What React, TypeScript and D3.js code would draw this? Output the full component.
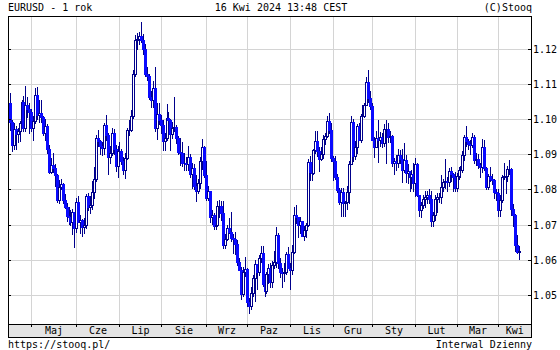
import React from "react";
import * as d3 from "d3";

// EURUSD daily OHLC, 2023-04-14 .. 2024-04-16 (weekdays, holidays 25 Dec / 1 Jan absent)
const FIRST_OPEN = 1.1046;

const CLOSE: number[] = [
  // Apr 2023
  1.0993, 1.0927, 1.0971, 1.0958, 1.0965, 1.099, 1.1048, 1.0974, 1.1041, 1.1028, 1.102,
  // May
  1.0974, 1.0996, 1.1069, 1.1013, 1.1019, 1.1005, 1.0962, 1.0982, 1.0915, 1.0849, 1.087, 1.0862,
  1.084, 1.077, 1.0806, 1.0815, 1.0771, 1.075, 1.0725, 1.0722, 1.0706, 1.0735, 1.0689,
  // Jun
  1.0763, 1.0708, 1.0712, 1.0694, 1.0698, 1.078, 1.0749, 1.0755, 1.0792, 1.0831, 1.0946, 1.0939,
  1.0923, 1.0917, 1.0983, 1.0955, 1.0893, 1.0905, 1.096, 1.0914, 1.0866, 1.091,
  // Jul
  1.091, 1.088, 1.0854, 1.089, 1.0968, 1.097, 1.101, 1.1128, 1.1227, 1.1228, 1.1236, 1.1227,
  1.12, 1.113, 1.1124, 1.1063, 1.1054, 1.1089, 1.0975, 1.1015, 1.0997,
  // Aug
  1.0983, 1.0937, 1.0946, 1.1004, 1.0999, 1.0957, 1.0974, 1.0979, 1.0946, 1.0907, 1.0905, 1.0874,
  1.0875, 1.0872, 1.0893, 1.0845, 1.0862, 1.0809, 1.0795, 1.0818, 1.088, 1.0922, 1.0842,
  // Sep
  1.0775, 1.0796, 1.0722, 1.0726, 1.0697, 1.0698, 1.0752, 1.0752, 1.0732, 1.0643, 1.0658, 1.069,
  1.0679, 1.0661, 1.0658, 1.0645, 1.0594, 1.0571, 1.0501, 1.0565, 1.0573,
  // Oct
  1.0478, 1.0468, 1.0505, 1.0548, 1.0588, 1.0564, 1.0604, 1.0619, 1.053, 1.0511, 1.0558, 1.0576,
  1.0535, 1.0584, 1.0594, 1.067, 1.0591, 1.0565, 1.0563, 1.0565, 1.0615, 1.0576,
  // Nov
  1.0571, 1.0622, 1.0728, 1.0721, 1.0698, 1.0709, 1.0668, 1.0684, 1.0699, 1.0879, 1.0849, 1.0848,
  1.0912, 1.0939, 1.091, 1.0887, 1.0902, 1.0943, 1.0952, 1.0995, 1.097, 1.0889,
  // Dec
  1.0882, 1.0836, 1.0797, 1.0764, 1.0792, 1.076, 1.0763, 1.0793, 1.0872, 1.0992, 1.0896, 1.0922,
  1.098, 1.0942, 1.101, 1.101, 1.1041, 1.1105, 1.106, 1.1039,
  // Jan 2024
  1.0942, 1.0921, 1.0946, 1.0942, 1.095, 1.0931, 1.0972, 1.0973, 1.095, 1.0953, 1.0876, 1.0882,
  1.0874, 1.0897, 1.0886, 1.0855, 1.0885, 1.0846, 1.0853, 1.0834, 1.0844, 1.0818,
  // Feb
  1.0873, 1.0785, 1.0742, 1.0755, 1.0772, 1.0778, 1.0784, 1.0772, 1.0709, 1.0728, 1.0774, 1.0777,
  1.0777, 1.0808, 1.082, 1.0823, 1.082, 1.0851, 1.0845, 1.0835, 1.0804,
  // Mar
  1.0838, 1.0855, 1.0855, 1.0899, 1.0948, 1.0937, 1.0928, 1.0926, 1.0948, 1.0883, 1.0888, 1.0869,
  1.0865, 1.0922, 1.086, 1.0808, 1.0839, 1.0831, 1.0828, 1.0792, 1.079,
  // Apr 2024
  1.0741, 1.0771, 1.0834, 1.0839, 1.0839, 1.0859, 1.0857, 1.0743, 1.0728, 1.0643, 1.0623, 1.0625,
];

const HIGH: number[] = [
  1.1075, 1.0998, 1.099, 1.098, 1.0975, 1.0996, 1.1055, 1.1065, 1.1095, 1.1063, 1.1045,
  1.103, 1.1008, 1.109, 1.1092, 1.1054, 1.1055, 1.1008, 1.1, 1.0985, 1.0926, 1.089, 1.0903,
  1.0873, 1.0845, 1.0828, 1.083, 1.0817, 1.0787, 1.076, 1.075, 1.0742, 1.0745, 1.0737,
  1.0776, 1.078, 1.0728, 1.0717, 1.0718, 1.0787, 1.079, 1.078, 1.0824, 1.0865, 1.0956, 1.097,
  1.094, 1.0934, 1.099, 1.1012, 1.096, 1.0925, 1.0976, 1.0973, 1.0927, 1.0925,
  1.0935, 1.0914, 1.0893, 1.0903, 1.0975, 1.0998, 1.1026, 1.1139, 1.1241, 1.1245, 1.1249, 1.1276,
  1.1243, 1.1215, 1.115, 1.113, 1.108, 1.111, 1.115, 1.1045, 1.1046,
  1.1013, 1.0997, 1.0962, 1.1042, 1.102, 1.1, 1.0993, 1.1064, 1.0984, 1.0952, 1.0946, 1.0935,
  1.0903, 1.0893, 1.0925, 1.0902, 1.0875, 1.0871, 1.0841, 1.0829, 1.0893, 1.0945, 1.0925,
  1.0882, 1.081, 1.0795, 1.074, 1.0733, 1.0721, 1.0767, 1.0769, 1.0768, 1.0768, 1.0673, 1.0698,
  1.0718, 1.0737, 1.0674, 1.068, 1.0656, 1.0605, 1.058, 1.0578, 1.0608,
  1.0575, 1.049, 1.0523, 1.0555, 1.0599, 1.0578, 1.0614, 1.0638, 1.064, 1.0535, 1.0565, 1.0587,
  1.059, 1.0595, 1.0624, 1.0694, 1.0675, 1.0604, 1.0577, 1.059, 1.0623, 1.0637,
  1.059, 1.0642, 1.075, 1.0755, 1.0722, 1.072, 1.0711, 1.0695, 1.0705, 1.0887, 1.0895, 1.0874,
  1.0914, 1.0965, 1.0965, 1.092, 1.092, 1.0955, 1.096, 1.101, 1.1017, 1.099,
  1.0896, 1.0895, 1.0843, 1.0805, 1.0803, 1.0805, 1.0768, 1.081, 1.088, 1.1009, 1.1, 1.0939,
  1.0985, 1.0988, 1.1015, 1.104, 1.1045, 1.112, 1.1139, 1.108,
  1.1045, 1.095, 1.0965, 1.0998, 1.0964, 1.096, 1.0985, 1.0998, 1.099, 1.0966, 1.0955, 1.089,
  1.0898, 1.0915, 1.0912, 1.0915, 1.0932, 1.0899, 1.0873, 1.0845, 1.0855, 1.0875,
  1.0889, 1.0874, 1.0785, 1.0765, 1.0785, 1.0795, 1.0795, 1.08, 1.0795, 1.0735, 1.0785, 1.079,
  1.079, 1.084, 1.083, 1.0888, 1.0835, 1.086, 1.0865, 1.0847, 1.085,
  1.0848, 1.0865, 1.0867, 1.091, 1.0955, 1.0981, 1.0945, 1.094, 1.096, 1.0955, 1.0905, 1.09,
  1.0875, 1.0943, 1.0942, 1.0865, 1.0845, 1.0865, 1.0845, 1.083, 1.08,
  1.08, 1.0785, 1.084, 1.0876, 1.085, 1.0866, 1.0885, 1.086, 1.0757, 1.073, 1.067, 1.064,
];

const LOW: number[] = [
  1.097, 1.091, 1.0915, 1.0915, 1.0935, 1.0938, 1.0985, 1.0965, 1.0965, 1.1005, 1.096,
  1.0965, 1.0942, 1.099, 1.1, 1.0993, 1.0992, 1.0955, 1.094, 1.0905, 1.0848, 1.0848, 1.085,
  1.081, 1.0765, 1.076, 1.08, 1.076, 1.0748, 1.071, 1.0702, 1.07, 1.0674, 1.0635,
  1.0678, 1.0706, 1.0676, 1.0667, 1.0677, 1.0691, 1.0742, 1.0734, 1.0745, 1.0775, 1.0825, 1.0925,
  1.0902, 1.0898, 1.09, 1.094, 1.0845, 1.0875, 1.0897, 1.09, 1.0852, 1.0835,
  1.0882, 1.0872, 1.0844, 1.0833, 1.0886, 1.0955, 1.0965, 1.1004, 1.1123, 1.12, 1.1215, 1.122,
  1.1185, 1.1124, 1.1112, 1.1058, 1.1035, 1.1035, 1.0965, 1.0945, 1.0985,
  1.096, 1.0912, 1.0913, 1.0941, 1.0963, 1.0912, 1.0946, 1.0967, 1.0931, 1.09, 1.087, 1.0868,
  1.0855, 1.0856, 1.0855, 1.0834, 1.0803, 1.0801, 1.0767, 1.079, 1.0803, 1.0857, 1.0836,
  1.077, 1.077, 1.0706, 1.0702, 1.0686, 1.0686, 1.0705, 1.072, 1.0714, 1.0632, 1.0632, 1.0655,
  1.0675, 1.0654, 1.0618, 1.0615, 1.0585, 1.057, 1.0488, 1.0496, 1.0554,
  1.0468, 1.0448, 1.046, 1.0495, 1.0482, 1.0515, 1.0555, 1.0592, 1.0525, 1.0495, 1.0506, 1.0532,
  1.0523, 1.0523, 1.0576, 1.058, 1.0577, 1.055, 1.0522, 1.0539, 1.056, 1.0575,
  1.0516, 1.056, 1.062, 1.0705, 1.0665, 1.0676, 1.0666, 1.0656, 1.0665, 1.0696, 1.0828, 1.0828,
  1.0844, 1.0905, 1.0895, 1.0852, 1.0885, 1.089, 1.093, 1.0948, 1.0962, 1.088,
  1.0828, 1.083, 1.0794, 1.0757, 1.0723, 1.0724, 1.0723, 1.0744, 1.076, 1.0873, 1.088, 1.0888,
  1.0905, 1.094, 1.0935, 1.0995, 1.1005, 1.104, 1.105, 1.103,
  1.094, 1.0892, 1.092, 1.0877, 1.0925, 1.0922, 1.0925, 1.0875, 1.0935, 1.0935, 1.0866, 1.0845,
  1.0855, 1.0865, 1.0875, 1.0822, 1.085, 1.082, 1.0818, 1.0795, 1.0805, 1.0795,
  1.078, 1.078, 1.0723, 1.0722, 1.0746, 1.075, 1.076, 1.076, 1.0697, 1.0695, 1.0712, 1.0735,
  1.0765, 1.076, 1.0795, 1.0805, 1.0795, 1.081, 1.0823, 1.0795, 1.0795,
  1.0795, 1.083, 1.0835, 1.085, 1.0885, 1.0925, 1.0915, 1.09, 1.092, 1.0876, 1.087, 1.086,
  1.0835, 1.085, 1.0855, 1.0802, 1.08, 1.0825, 1.0815, 1.0775, 1.077,
  1.0725, 1.0725, 1.0765, 1.083, 1.079, 1.0825, 1.0845, 1.0728, 1.0697, 1.0624, 1.062, 1.0601,
];

const Y_TICKS = [1.05, 1.06, 1.07, 1.08, 1.09, 1.1, 1.11, 1.12];
const MONTH_LABELS = ["Sty", "Lut", "Mar", "Kwi", "Maj", "Cze", "Lip", "Sie", "Wrz", "Paz", "Lis", "Gru"];
const MISSING_DAYS = ["2023-12-25", "2024-01-01"];
const TITLE = "EURUSD - 1 rok";
const STAMP = "16 Kwi 2024 13:48 CEST";
const COPY = "(C)Stooq";
const FOOT_LEFT = "https://stooq.pl/";
const FOOT_RIGHT = "Interwal Dzienny";

const FONT = "'DejaVu Sans Mono', monospace";

export default function App() {
  const W = 560;
  const H = 350;
  const L = 8;
  const R = 531;
  const T = 16;
  const B = 324;
  const BB = 337;

  const fmt = d3.timeFormat("%Y-%m-%d");
  const days = d3.timeDay
    .range(new Date(2023, 3, 14), new Date(2024, 3, 17))
    .filter((d) => d.getDay() !== 0 && d.getDay() !== 6 && !MISSING_DAYS.includes(fmt(d)));

  const x = d3.scaleLinear().domain([11, 249]).range([31.3, 497.7]);
  const y = d3.scaleLinear().domain([1.05, 1.12]).range([294.7, 49]);

  const candles = CLOSE.map((c, i) => {
    const o = i === 0 ? FIRST_OPEN : CLOSE[i - 1];
    const hi = Math.max(HIGH[i], o, c);
    const lo = Math.min(LOW[i], o, c);
    return { i, o, c, hi, lo };
  });

  const monthStarts: number[] = [];
  days.forEach((d, i) => {
    if (i > 0 && d.getMonth() !== days[i - 1].getMonth()) monthStarts.push(i);
  });
  const gridX = monthStarts.map((i) => Math.round(x(i)) + 0.5);

  const monthLabelData = monthStarts.map((i, k) => {
    const x0 = gridX[k];
    const x1 = k + 1 < gridX.length ? gridX[k + 1] : R;
    return { label: MONTH_LABELS[days[i].getMonth()], cx: (x0 + x1) / 2 };
  });

  const navy = "#00008b";
  const blue = "#0a0aff";
  const grid = "#d4d4d4";

  return (
    <svg
      width={W}
      height={H}
      style={{ position: "absolute", left: 0, top: 0, background: "#fff" }}
      shapeRendering="crispEdges"
    >
      <rect x={0} y={0} width={W} height={H} fill="#fff" />
      {/* header */}
      <text x={L} y={11} fontFamily={FONT} fontSize={10} fill="#000">{TITLE}</text>
      <text x={281} y={11} fontFamily={FONT} fontSize={10} fill="#000" textAnchor="middle">{STAMP}</text>
      <text x={R + 1} y={11} fontFamily={FONT} fontSize={10} fill="#000" textAnchor="end">{COPY}</text>

      {/* grid */}
      {Y_TICKS.map((t) => (
        <line key={"gy" + t} x1={L} x2={R} y1={Math.round(y(t)) + 0.5} y2={Math.round(y(t)) + 0.5} stroke={grid} />
      ))}
      {gridX.map((gx, k) => (
        <line key={"gx" + k} x1={gx} x2={gx} y1={T} y2={B} stroke={grid} />
      ))}

      {/* candles */}
      {candles.map((d) => {
        const cx = Math.round(x(d.i));
        const top = Math.round(y(Math.max(d.o, d.c)));
        const bot = Math.round(y(Math.min(d.o, d.c)));
        const up = d.c > d.o;
        return (
          <g key={d.i}>
            <line x1={cx + 0.5} x2={cx + 0.5} y1={Math.round(y(d.hi))} y2={Math.round(y(d.lo)) + 1} stroke={navy} />
            <rect
              x={cx - 0.5}
              y={top + 0.5}
              width={2}
              height={Math.max(bot - top, 0)}
              fill={up ? "#fff" : blue}
              stroke={up ? navy : blue}
            />
          </g>
        );
      })}

      {/* axis band */}
      <rect x={L + 0.5} y={B + 0.5} width={R - L} height={BB - B} fill="#e4e4e4" stroke="#000" />
      {gridX.map((gx, k) => (
        <line key={"bt" + k} x1={gx} x2={gx} y1={B} y2={B + 3} stroke="#000" />
      ))}
      {monthLabelData.map((m, k) => (
        <text key={"ml" + k} x={m.cx} y={334} fontFamily={FONT} fontSize={10} fill="#000" textAnchor="middle">
          {m.label}
        </text>
      ))}

      {/* frame */}
      <rect x={L + 0.5} y={T + 0.5} width={R - L} height={BB - T} fill="none" stroke="#000" />

      {/* y ticks + labels */}
      {Y_TICKS.map((t) => {
        const yy = Math.round(y(t)) + 0.5;
        return (
          <g key={"yt" + t}>
            <line x1={L} x2={L + 3} y1={yy} y2={yy} stroke="#000" />
            <line x1={R - 3} x2={R} y1={yy} y2={yy} stroke="#000" />
            <text x={533} y={yy + 3.5} fontFamily={FONT} fontSize={10} fill="#000">
              {d3.format(".2f")(t)}
            </text>
          </g>
        );
      })}

      {/* footer */}
      <text x={L} y={348} fontFamily={FONT} fontSize={10} fill="#000">{FOOT_LEFT}</text>
      <text x={R + 1} y={348} fontFamily={FONT} fontSize={10} fill="#000" textAnchor="end">{FOOT_RIGHT}</text>
    </svg>
  );
}
